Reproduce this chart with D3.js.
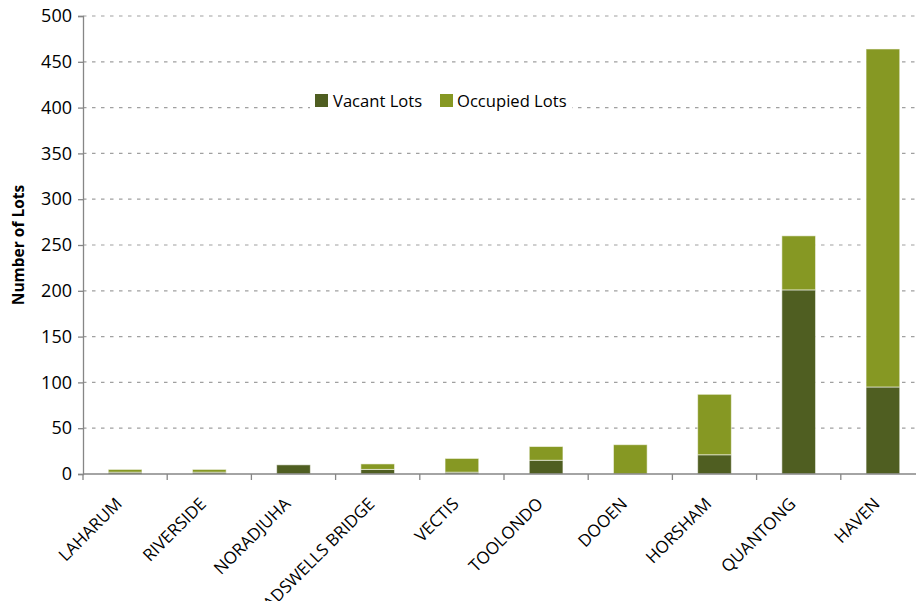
<!DOCTYPE html>
<html>
<head>
<meta charset="utf-8">
<script src="https://cdn.jsdelivr.net/npm/d3@7"></script>
<style>
  html, body { margin: 0; padding: 0; background: #fff; }
  svg { display: block; }
  text { font-family: "Open Sans", "Noto Sans", sans-serif; fill: #000; }
</style>
</head>
<body>
<svg id="chart" width="916" height="601"></svg>
<script>
// Lots per locality, split into vacant and occupied
const categories = ["LAHARUM", "RIVERSIDE", "NORADJUHA", "DADSWELLS BRIDGE", "VECTIS",
                    "TOOLONDO", "DOOEN", "HORSHAM", "QUANTONG", "HAVEN"];
const vacantLots   = [2, 2, 10, 5, 2, 15, 0, 21, 201, 95];
const occupiedLots = [3, 3, 0, 6, 15, 15, 32, 66, 59, 369];
const seriesNames  = ["Vacant Lots", "Occupied Lots"];
const yTickValues  = [0, 50, 100, 150, 200, 250, 300, 350, 400, 450, 500];

const colors = { "Vacant Lots": "#4f5e21", "Occupied Lots": "#869823" };

const svg = d3.select("#chart");
const plot = { left: 83, right: 925, top: 16, bottom: 474 };

const rows = categories.map((c, i) => ({
  category: c,
  "Vacant Lots": vacantLots[i],
  "Occupied Lots": occupiedLots[i]
}));
const stacked = d3.stack().keys(seriesNames)(rows);

const y = d3.scaleLinear().domain([0, 500]).range([plot.bottom, plot.top]);
const xStep = d3.scaleBand().domain(categories).range([plot.left, plot.right]).padding(0);
const xBar = d3.scaleBand().domain(categories).range([plot.left, plot.right])
  .paddingInner(0.6).paddingOuter(0.3);

// dashed horizontal gridlines
svg.append("g")
  .selectAll("line")
  .data(yTickValues.filter(v => v > 0))
  .join("line")
  .attr("x1", plot.left).attr("x2", plot.right)
  .attr("y1", d => y(d)).attr("y2", d => y(d))
  .attr("stroke", "#a0a0a0")
  .attr("stroke-width", 1.2)
  .attr("stroke-dasharray", "3.5,5.5");

// stacked bars
svg.append("g")
  .selectAll("g")
  .data(stacked)
  .join("g")
  .attr("fill", d => colors[d.key])
  .selectAll("rect")
  .data(d => d.filter(s => s[1] > s[0]))
  .join("rect")
  .attr("x", d => xBar(d.data.category))
  .attr("width", xBar.bandwidth())
  .attr("y", d => y(d[1]))
  .attr("height", d => y(d[0]) - y(d[1]))
  .attr("stroke", "rgba(255,255,255,0.55)")
  .attr("stroke-width", 1);

// y axis
const yAxis = d3.axisLeft(y).tickValues(yTickValues).tickSizeOuter(0).tickSize(5).tickPadding(6);
const gy = svg.append("g").attr("transform", `translate(${plot.left},0)`).call(yAxis);
gy.select(".domain").attr("stroke", "#868686").attr("stroke-width", 1.3);
gy.selectAll(".tick line").attr("stroke", "#868686").attr("stroke-width", 1.3);
gy.selectAll(".tick text").attr("font-size", 18).attr("fill", "#000")
  .attr("font-family", "'Open Sans', sans-serif");

// x axis: baseline with ticks at category boundaries
const gx = svg.append("g");
gx.append("line")
  .attr("x1", plot.left).attr("x2", plot.right)
  .attr("y1", y(0)).attr("y2", y(0))
  .attr("stroke", "#868686").attr("stroke-width", 1.3);
gx.selectAll("line.tick")
  .data(categories)
  .join("line")
  .attr("class", "tick")
  .attr("x1", d => xStep(d)).attr("x2", d => xStep(d))
  .attr("y1", y(0)).attr("y2", y(0) + 6)
  .attr("stroke", "#868686").attr("stroke-width", 1.3);
gx.selectAll("text")
  .data(categories)
  .join("text")
  .attr("transform", d => `translate(${xStep(d) + xStep.bandwidth() / 2 - 2},${y(0) + 31}) rotate(-45)`)
  .attr("text-anchor", "end")
  .attr("font-size", 17)
  .text(d => d);

// y axis title
svg.append("text")
  .attr("transform", `translate(24,${(plot.top + plot.bottom) / 2}) rotate(-90)`)
  .attr("text-anchor", "middle")
  .attr("font-size", 15.5)
  .attr("font-weight", "bold")
  .text("Number of Lots");

// legend
const legend = svg.append("g").attr("transform", "translate(310,88)");
legend.append("rect").attr("x", 0).attr("y", 0).attr("width", 262).attr("height", 26).attr("fill", "#fff");
const items = [{ name: seriesNames[0], x: 5, tx: 23 }, { name: seriesNames[1], x: 130, tx: 147 }];
items.forEach(it => {
  legend.append("rect")
    .attr("x", it.x).attr("y", 6).attr("width", 13).attr("height", 13)
    .attr("fill", colors[it.name]);
  legend.append("text")
    .attr("x", it.tx).attr("y", 19)
    .attr("font-size", 16.6)
    .text(it.name);
});
</script>
</body>
</html>
